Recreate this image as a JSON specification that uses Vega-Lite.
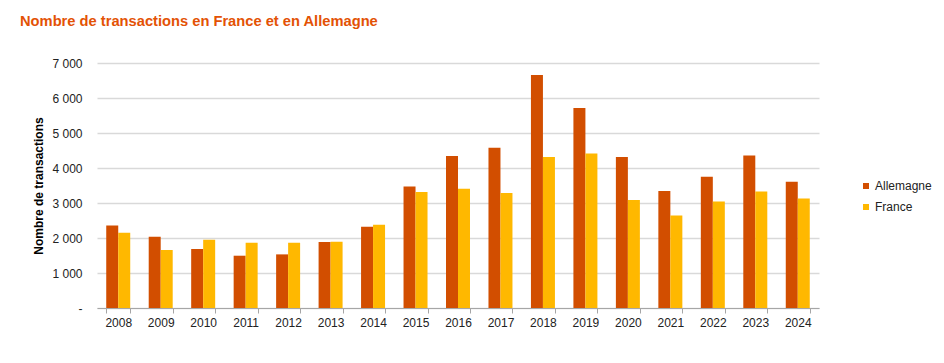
{
  "$schema": "https://vega.github.io/schema/vega-lite/v6.json",
  "width": 722,
  "height": 245,
  "autosize": {"type": "none"},
  "padding": {"left": 97, "top": 63, "right": 125, "bottom": 55},
  "background": "white",
  "title": {
    "text": "Nombre de transactions en France et en Allemagne",
    "anchor": "start",
    "frame": "group",
    "dx": -77,
    "offset": 28,
    "fontSize": 14.7,
    "font": "Liberation Sans",
    "fontWeight": "bold",
    "color": "#E35205"
  },
  "config": {
    "view": {"stroke": null},
    "font": "Liberation Sans",
    "axis": {"labelFont": "Liberation Sans", "titleFont": "Liberation Sans", "labelColor": "#222222", "labelFontSize": 12}
  },
  "data": {
    "values": [
      {"annee": "2008", "pays": "Allemagne", "n": 2360},
      {"annee": "2008", "pays": "France", "n": 2150},
      {"annee": "2009", "pays": "Allemagne", "n": 2037},
      {"annee": "2009", "pays": "France", "n": 1657},
      {"annee": "2010", "pays": "Allemagne", "n": 1686},
      {"annee": "2010", "pays": "France", "n": 1952},
      {"annee": "2011", "pays": "Allemagne", "n": 1494},
      {"annee": "2011", "pays": "France", "n": 1866},
      {"annee": "2012", "pays": "Allemagne", "n": 1532},
      {"annee": "2012", "pays": "France", "n": 1866},
      {"annee": "2013", "pays": "Allemagne", "n": 1886},
      {"annee": "2013", "pays": "France", "n": 1895},
      {"annee": "2014", "pays": "Allemagne", "n": 2323},
      {"annee": "2014", "pays": "France", "n": 2380},
      {"annee": "2015", "pays": "Allemagne", "n": 3474},
      {"annee": "2015", "pays": "France", "n": 3314},
      {"annee": "2016", "pays": "Allemagne", "n": 4343},
      {"annee": "2016", "pays": "France", "n": 3409},
      {"annee": "2017", "pays": "Allemagne", "n": 4580},
      {"annee": "2017", "pays": "France", "n": 3286},
      {"annee": "2018", "pays": "Allemagne", "n": 6657},
      {"annee": "2018", "pays": "France", "n": 4314},
      {"annee": "2019", "pays": "Allemagne", "n": 5714},
      {"annee": "2019", "pays": "France", "n": 4417},
      {"annee": "2020", "pays": "Allemagne", "n": 4314},
      {"annee": "2020", "pays": "France", "n": 3086},
      {"annee": "2021", "pays": "Allemagne", "n": 3343},
      {"annee": "2021", "pays": "France", "n": 2646},
      {"annee": "2022", "pays": "Allemagne", "n": 3751},
      {"annee": "2022", "pays": "France", "n": 3046},
      {"annee": "2023", "pays": "Allemagne", "n": 4360},
      {"annee": "2023", "pays": "France", "n": 3331},
      {"annee": "2024", "pays": "Allemagne", "n": 3609},
      {"annee": "2024", "pays": "France", "n": 3131}
    ]
  },
  "mark": {"type": "bar"},
  "encoding": {
    "x": {
      "field": "annee",
      "type": "nominal",
      "title": null,
      "scale": {"paddingInner": 0.435, "paddingOuter": 0.2175},
      "axis": {
        "labelAngle": 0,
        "labelPadding": 4,
        "domainColor": "#A6A6A6",
        "tickColor": "#A6A6A6",
        "tickBand": "extent",
        "tickSize": 5,
        "grid": false
      }
    },
    "xOffset": {"field": "pays", "type": "nominal", "sort": ["Allemagne", "France"]},
    "y": {
      "field": "n",
      "type": "quantitative",
      "title": "Nombre de transactions",
      "scale": {"domain": [0, 7000], "nice": false},
      "axis": {
        "values": [0, 1000, 2000, 3000, 4000, 5000, 6000, 7000],
        "labelExpr": "datum.value == 0 ? '-' : replace(format(datum.value, ',d'), ',', ' ')",
        "domain": false,
        "ticks": false,
        "labelPadding": 15,
        "gridColor": "#D9D9D9",
        "gridWidth": 1.5,
        "titleFontSize": 12,
        "titleFontWeight": "bold",
        "titleColor": "#000000",
        "titlePadding": 6
      }
    },
    "color": {
      "field": "pays",
      "type": "nominal",
      "scale": {"domain": ["Allemagne", "France"], "range": ["#D24E00", "#FFB800"]},
      "legend": {
        "title": null,
        "orient": "none",
        "legendX": 763,
        "legendY": 117,
        "symbolType": "square",
        "symbolSize": 36,
        "labelFontSize": 12,
        "labelColor": "#222222",
        "labelOffset": 3,
        "rowPadding": 9
      }
    }
  }
}
